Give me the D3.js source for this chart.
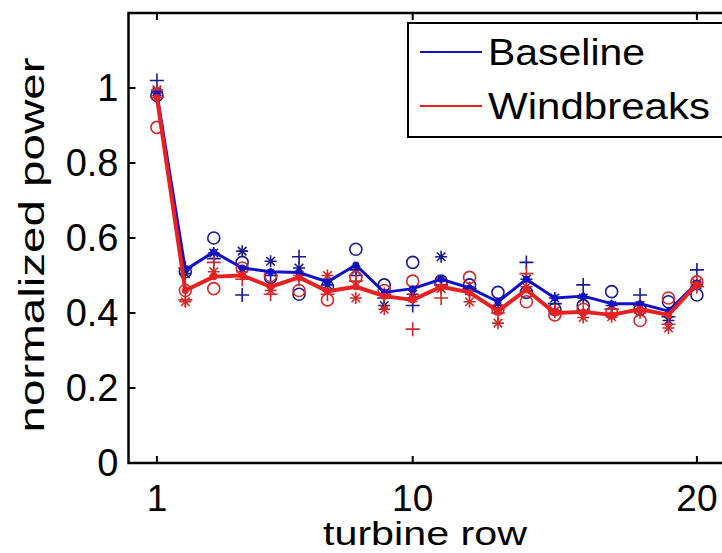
<!DOCTYPE html>
<html>
<head>
<meta charset="utf-8">
<script src="https://cdn.jsdelivr.net/npm/d3@7"></script>
<style>
  body { margin: 0; background: #fff; }
  text { font-family: "Liberation Sans", Arial, sans-serif; fill: #000; }
</style>
</head>
<body>
<div id="chart"></div>
<script>
// normalized power per turbine row, baseline vs windbreaks

const rows = d3.range(1, 21);

const baseMean   = [0.985, 0.515, 0.563, 0.52, 0.51, 0.508, 0.483, 0.528, 0.455, 0.465, 0.49, 0.467, 0.43, 0.49, 0.44, 0.445, 0.425, 0.425, 0.405, 0.48];
const baseCircle = [0.98, 0.51, 0.60, 0.535, 0.495, 0.45, 0.47, 0.57, 0.475, 0.535, 0.485, 0.475, 0.455, 0.455, 0.41, 0.42, 0.457, 0.41, 0.43, 0.448];
const basePlus   = [1.02, 0.52, 0.545, 0.448, 0.50, 0.55, 0.49, 0.50, 0.44, 0.42, 0.475, 0.465, 0.42, 0.535, 0.425, 0.475, 0.41, 0.448, 0.39, 0.515];
const baseStar   = [0.99, 0.505, 0.56, 0.565, 0.538, 0.52, 0.475, 0.515, 0.42, 0.45, 0.55, 0.46, 0.41, 0.49, 0.44, 0.44, 0.42, 0.42, 0.38, 0.475];

const windMean   = [0.975, 0.46, 0.497, 0.50, 0.47, 0.495, 0.458, 0.47, 0.445, 0.435, 0.47, 0.455, 0.405, 0.462, 0.40, 0.403, 0.395, 0.41, 0.395, 0.477];
const windCircle = [0.895, 0.46, 0.465, 0.52, 0.50, 0.46, 0.435, 0.495, 0.46, 0.485, 0.48, 0.495, 0.41, 0.43, 0.395, 0.41, 0.40, 0.38, 0.44, 0.483];
const windPlus   = [0.975, 0.435, 0.535, 0.49, 0.45, 0.49, 0.45, 0.485, 0.45, 0.357, 0.44, 0.46, 0.40, 0.505, 0.405, 0.405, 0.41, 0.42, 0.37, 0.47];
const windStar   = [0.995, 0.43, 0.51, 0.51, 0.46, 0.50, 0.50, 0.44, 0.41, 0.44, 0.465, 0.43, 0.373, 0.47, 0.405, 0.388, 0.39, 0.40, 0.36, 0.48];

const xTicks = [1, 10, 20];
const yTicks = [0, 0.2, 0.4, 0.6, 0.8, 1];
const seriesNames = ["Baseline", "Windbreaks"];

const width = 722, height = 553;
const plotLeft = 128.5, plotTop = 13, plotBottom = 463;
const unit = 28.42;

const x = d3.scaleLinear().domain([0, 21]).range([plotLeft, plotLeft + 21 * unit]);
const y = d3.scaleLinear().domain([0, 1.2]).range([plotBottom, plotTop]);

const svg = d3.select("#chart").append("svg")
    .attr("width", width)
    .attr("height", height);

const blue = "#1010c8", blueMk = "#1a1a90";
const red = "#e82020", redMk = "#d02a2a";

// marker shapes
function drawMarkers(vals, shape, col) {
    const g = svg.append("g")
        .attr("stroke", col)
        .attr("fill", "none")
        .attr("stroke-width", 1.6);
    const pts = rows.map((r, i) => [x(r), y(vals[i])]);
    if (shape === "o") {
        g.selectAll("circle").data(pts).join("circle")
            .attr("cx", d => d[0]).attr("cy", d => d[1]).attr("r", 6);
    } else if (shape === "+") {
        g.selectAll("path").data(pts).join("path")
            .attr("d", d => `M${d[0] - 7},${d[1]}H${d[0] + 7}M${d[0]},${d[1] - 7}V${d[1] + 7}`);
    } else {
        const s = 6, t = 4.3;
        g.selectAll("path").data(pts).join("path")
            .attr("d", d => `M${d[0] - s},${d[1]}H${d[0] + s}M${d[0]},${d[1] - s}V${d[1] + s}` +
                `M${d[0] - t},${d[1] - t}L${d[0] + t},${d[1] + t}M${d[0] - t},${d[1] + t}L${d[0] + t},${d[1] - t}`);
    }
}

drawMarkers(baseCircle, "o", blueMk);
drawMarkers(basePlus, "+", blueMk);
drawMarkers(baseStar, "*", blueMk);
drawMarkers(windCircle, "o", redMk);
drawMarkers(windPlus, "+", redMk);
drawMarkers(windStar, "*", redMk);

const line = d3.line().x((d, i) => x(rows[i])).y(d => y(d));

function drawMean(vals, col, w) {
    svg.append("path")
        .attr("d", line(vals))
        .attr("fill", "none")
        .attr("stroke", col)
        .attr("stroke-width", w)
        .attr("stroke-linejoin", "round");
    svg.append("g").selectAll("circle")
        .data(vals).join("circle")
        .attr("cx", (d, i) => x(rows[i]))
        .attr("cy", d => y(d))
        .attr("r", 3.5)
        .attr("fill", col);
}

drawMean(baseMean, blue, 3);
drawMean(windMean, red, 4);

// axes box
svg.append("path")
    .attr("d", `M${x(21)},${plotTop}H${plotLeft}V${plotBottom}H${x(21)}`)
    .attr("fill", "none")
    .attr("stroke", "#000")
    .attr("stroke-width", 2.5);

svg.append("g").selectAll("path").data(xTicks).join("path")
    .attr("d", d => `M${x(d)},${plotBottom}v-7M${x(d)},${plotTop}v7`)
    .attr("stroke", "#000").attr("stroke-width", 2);

svg.append("g").selectAll("path").data(yTicks).join("path")
    .attr("d", d => `M${plotLeft},${y(d)}h7`)
    .attr("stroke", "#000").attr("stroke-width", 2);

svg.append("g").selectAll("text").data(xTicks).join("text")
    .attr("x", d => x(d))
    .attr("y", plotBottom + 48)
    .attr("text-anchor", "middle")
    .style("font-size", "37px")
    .text(d => d);

svg.append("g").selectAll("text").data(yTicks).join("text")
    .attr("x", plotLeft - 10)
    .attr("y", d => y(d) + 13)
    .attr("text-anchor", "end")
    .style("font-size", "38px")
    .text(d => d3.format("~g")(d));

svg.append("text")
    .attr("x", 425)
    .attr("y", 545)
    .attr("text-anchor", "middle")
    .attr("textLength", 204)
    .attr("lengthAdjust", "spacingAndGlyphs")
    .style("font-size", "33px")
    .text("turbine row");

svg.append("text")
    .attr("transform", "translate(44,245) rotate(-90)")
    .attr("text-anchor", "middle")
    .attr("textLength", 375)
    .attr("lengthAdjust", "spacingAndGlyphs")
    .style("font-size", "35px")
    .text("normalized power");

// legend
const lg = svg.append("g");
lg.append("rect")
    .attr("x", 408).attr("y", 23)
    .attr("width", 330).attr("height", 114)
    .attr("fill", "#fff")
    .attr("stroke", "#000")
    .attr("stroke-width", 2);
const legendCols = [blue, red];
seriesNames.forEach((name, i) => {
    const ly = 52 + i * 54;
    lg.append("line")
        .attr("x1", 420).attr("x2", 482)
        .attr("y1", ly).attr("y2", ly)
        .attr("stroke", legendCols[i]).attr("stroke-width", 2);
    lg.append("text")
        .attr("x", 488).attr("y", ly + 13)
        .style("font-size", "36px")
        .attr("textLength", i === 0 ? 157 : 222)
        .attr("lengthAdjust", "spacingAndGlyphs")
        .text(name);
});
</script>
</body>
</html>
